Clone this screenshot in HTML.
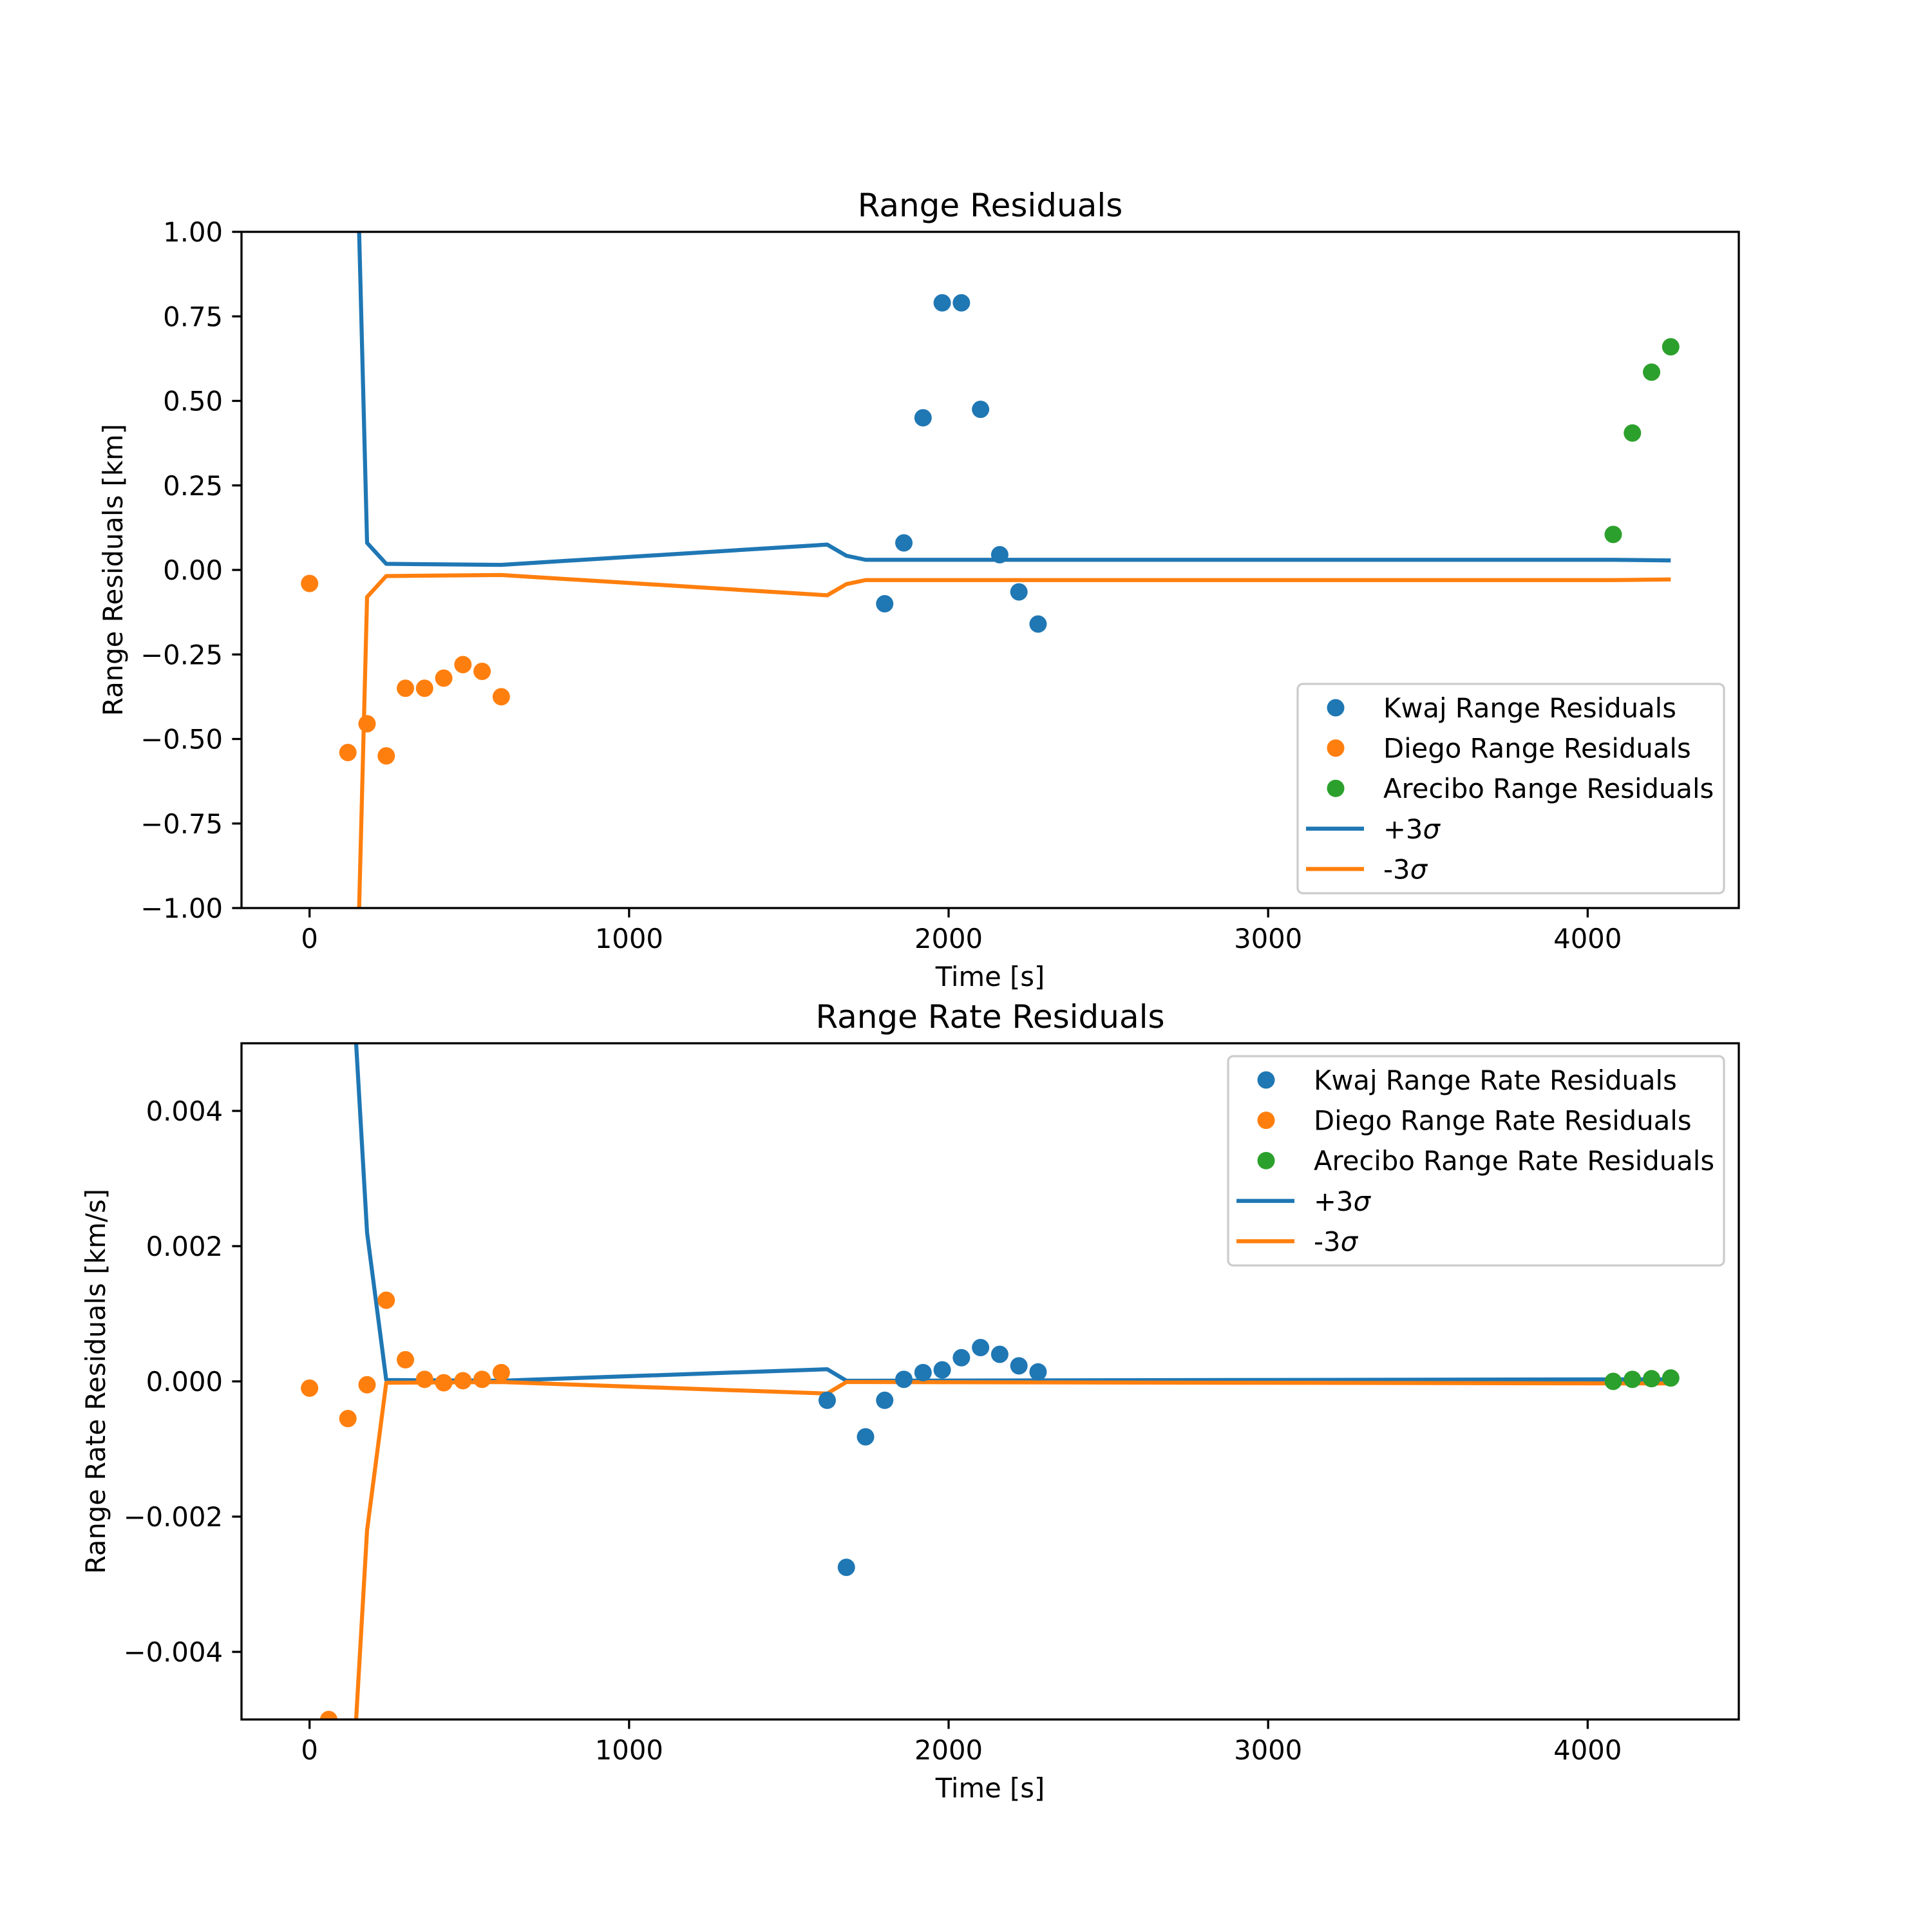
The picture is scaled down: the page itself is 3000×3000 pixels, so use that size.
<!DOCTYPE html>
<html><head><meta charset="utf-8"><style>
html,body{margin:0;padding:0;background:#fff;width:3000px;height:3000px;overflow:hidden}
svg{display:block;font-family:"DejaVu Sans","Liberation Sans",sans-serif}
</style></head><body>
<svg id="fig" width="3000" height="3000" viewBox="0 0 3000 3000" xmlns="http://www.w3.org/2000/svg">
<rect width="3000" height="3000" fill="#fff"/>
</svg>
<script>
// ---- data: range residuals ----
const kwajT = [1800,1860,1920,1980,2040,2100,2160,2220,2280];
const kwajR = [-0.10,0.08,0.45,0.79,0.79,0.475,0.045,-0.065,-0.16];
const diegoT = [0,120,180,240,300,360,420,480,540,600];
const diegoR = [-0.04,-0.54,-0.455,-0.55,-0.35,-0.35,-0.32,-0.28,-0.30,-0.375];
const arecT = [4080,4140,4200,4260];
const arecR = [0.105,0.405,0.585,0.66];
const sigT = [0,120,180,240,600,1620,1680,1740,4080,4260];
const sigR = [100,2.3,0.08,0.018,0.015,0.075,0.042,0.03,0.03,0.028];
// ---- data: range rate residuals ----
const kwajRRT = [1620,1680,1740,1800,1860,1920,1980,2040,2100,2160,2220,2280];
const kwajRR = [-0.00028,-0.00275,-0.00082,-0.00028,0.00003,0.00013,0.00017,0.00035,0.0005,0.0004,0.00023,0.00014];
const diegoRRT = [0,60,120,180,240,300,360,420,480,540,600];
const diegoRR = [-0.0001,-0.005,-0.00055,-0.00005,0.0012,0.00032,0.00003,-0.00002,0.00001,0.00003,0.00013];
const arecRRT = [4080,4140,4200,4260];
const arecRR = [0.0,0.00003,0.00004,0.00005];
const sigRRT = [0,120,180,240,600,1620,1680,1740,4080,4260];
const sigRR = [0.05,0.0071,0.0022,0.00002,0.00001,0.00018,0.00001,0.00001,0.00003,0.00003];
const xTicks = [0,1000,2000,3000,4000];
const yTicksTop = [-1,-0.75,-0.5,-0.25,0,0.25,0.5,0.75,1];
const yTicksBot = [-0.004,-0.002,0,0.002,0.004];

const NS="http://www.w3.org/2000/svg";
const svg=document.getElementById('fig');
function mk(tag,attrs,parent){const e=document.createElementNS(NS,tag);for(const k in attrs)e.setAttribute(k,attrs[k]);(parent||svg).appendChild(e);return e;}
const BLUE="#1f77b4",ORANGE="#ff7f0e",GREEN="#2ca02c";
const L=375,R=2700,XMIN=-213,XMAX=4473;
const MR=13.5;
const fmtMinus=s=>s.replace('-','\u2212');

function panel(cfg){
  const {top,bot,ymin,ymax,id}=cfg;
  const sx=v=>L+(v-XMIN)/(XMAX-XMIN)*(R-L);
  const sy=v=>bot-(v-ymin)/(ymax-ymin)*(bot-top);
  const g=mk('g',{});
  
  
  const cid='clip-'+id;
  const cp=mk('clipPath',{id:cid},g);mk('rect',{x:L,y:top,width:R-L,height:bot-top},cp);
  const plot=mk('g',{'clip-path':'url(#'+cid+')'},g);
  const pl=(ts,vs,sign,col,name)=>{
    const p=mk('polyline',{points:ts.map((t,i)=>sx(t)+','+sy(sign*vs[i])).join(' '),fill:'none',stroke:col,'stroke-width':6.25,'stroke-linejoin':'round'},plot);
    
    
  };
  pl(cfg.sigT,cfg.sigV,1,BLUE,'plus-3-sigma-line');
  pl(cfg.sigT,cfg.sigV,-1,ORANGE,'minus-3-sigma-line');
  const sc=(ts,vs,col,name)=>{ts.forEach((t,i)=>{
    const c=mk('circle',{cx:sx(t),cy:sy(vs[i]),r:MR,fill:col},plot);
    
    
  });};
  sc(cfg.kT,cfg.kV,BLUE,'kwaj-point');
  sc(cfg.dT,cfg.dV,ORANGE,'diego-point');
  sc(cfg.aT,cfg.aV,GREEN,'arecibo-point');
  mk('rect',{x:L,y:top,width:R-L,height:bot-top,fill:'none',stroke:'#000','stroke-width':3.3},g);
  xTicks.forEach(t=>{
    const x=sx(t);
    mk('line',{x1:x,y1:bot,x2:x,y2:bot+14.6,stroke:'#000','stroke-width':3.3},g);
    const tx=mk('text',{x:x,y:bot+62,'font-size':41.7,'text-anchor':'middle'},g);tx.textContent=t;
    
    
  });
  cfg.yTicks.forEach(v=>{
    const y=sy(v);
    mk('line',{x1:L,y1:y,x2:L-14.6,y2:y,stroke:'#000','stroke-width':3.3},g);
    const tx=mk('text',{x:L-29,y:y+15,'font-size':41.7,'text-anchor':'end'},g);tx.textContent=fmtMinus(v.toFixed(cfg.dec));
    
    
  });
  const xl=mk('text',{x:(L+R)/2,y:bot+121,'font-size':41.7,'text-anchor':'middle'},g);xl.textContent='Time [s]';
  
  
  const yl=mk('text',{x:cfg.ylx,y:(top+bot)/2,'font-size':41.7,'text-anchor':'middle',transform:'rotate(-90 '+cfg.ylx+' '+(top+bot)/2+')'},g);yl.textContent=cfg.ylabel;
  
  
  const ti=mk('text',{x:(L+R)/2,y:top-24,'font-size':50,'text-anchor':'middle'},g);ti.textContent=cfg.title;
  
  
  const lg=mk('g',{},g);
  
  
  const [lx,ly,lw,lh]=cfg.leg;
  mk('rect',{x:lx,y:ly,width:lw,height:lh,rx:8,fill:'#fff','fill-opacity':0.8,stroke:'#ccc','stroke-width':3.3},lg);
  const items=[[BLUE,'pt',cfg.names[0]],[ORANGE,'pt',cfg.names[1]],[GREEN,'pt',cfg.names[2]],[BLUE,'ln','+3σ'],[ORANGE,'ln','-3σ']];
  items.forEach((it,i)=>{
    const y=ly+37+i*62.6;
    if(it[1]==='pt')mk('circle',{cx:lx+59,cy:y,r:MR,fill:it[0]},lg);
    else mk('line',{x1:lx+13,y1:y,x2:lx+103,y2:y,stroke:it[0],'stroke-width':6.25},lg);
    const t=mk('text',{x:lx+133,y:y+15,'font-size':41.7},lg);
    if(it[1]==='ln'){t.textContent=it[2].slice(0,2);const s=mk('tspan',{'font-style':'italic'},t);s.textContent='σ';}
    else t.textContent=it[2];
    
    
  });
}
panel({id:'range',top:360,bot:1410,ymin:-1,ymax:1,yTicks:yTicksTop,dec:2,ylx:190,ylabel:'Range Residuals [km]',title:'Range Residuals',
  kT:kwajT,kV:kwajR,dT:diegoT,dV:diegoR,aT:arecT,aV:arecR,sigT:sigT,sigV:sigR,leg:[2015,1062,662,325],
  names:['Kwaj Range Residuals','Diego Range Residuals','Arecibo Range Residuals']});
panel({id:'range-rate',top:1620,bot:2670,ymin:-0.005,ymax:0.005,yTicks:yTicksBot,dec:3,ylx:163,ylabel:'Range Rate Residuals [km/s]',title:'Range Rate Residuals',
  kT:kwajRRT,kV:kwajRR,dT:diegoRRT,dV:diegoRR,aT:arecRRT,aV:arecRR,sigT:sigRRT,sigV:sigRR,leg:[1907,1640,770,325],
  names:['Kwaj Range Rate Residuals','Diego Range Rate Residuals','Arecibo Range Rate Residuals']});
</script>
</body></html>
